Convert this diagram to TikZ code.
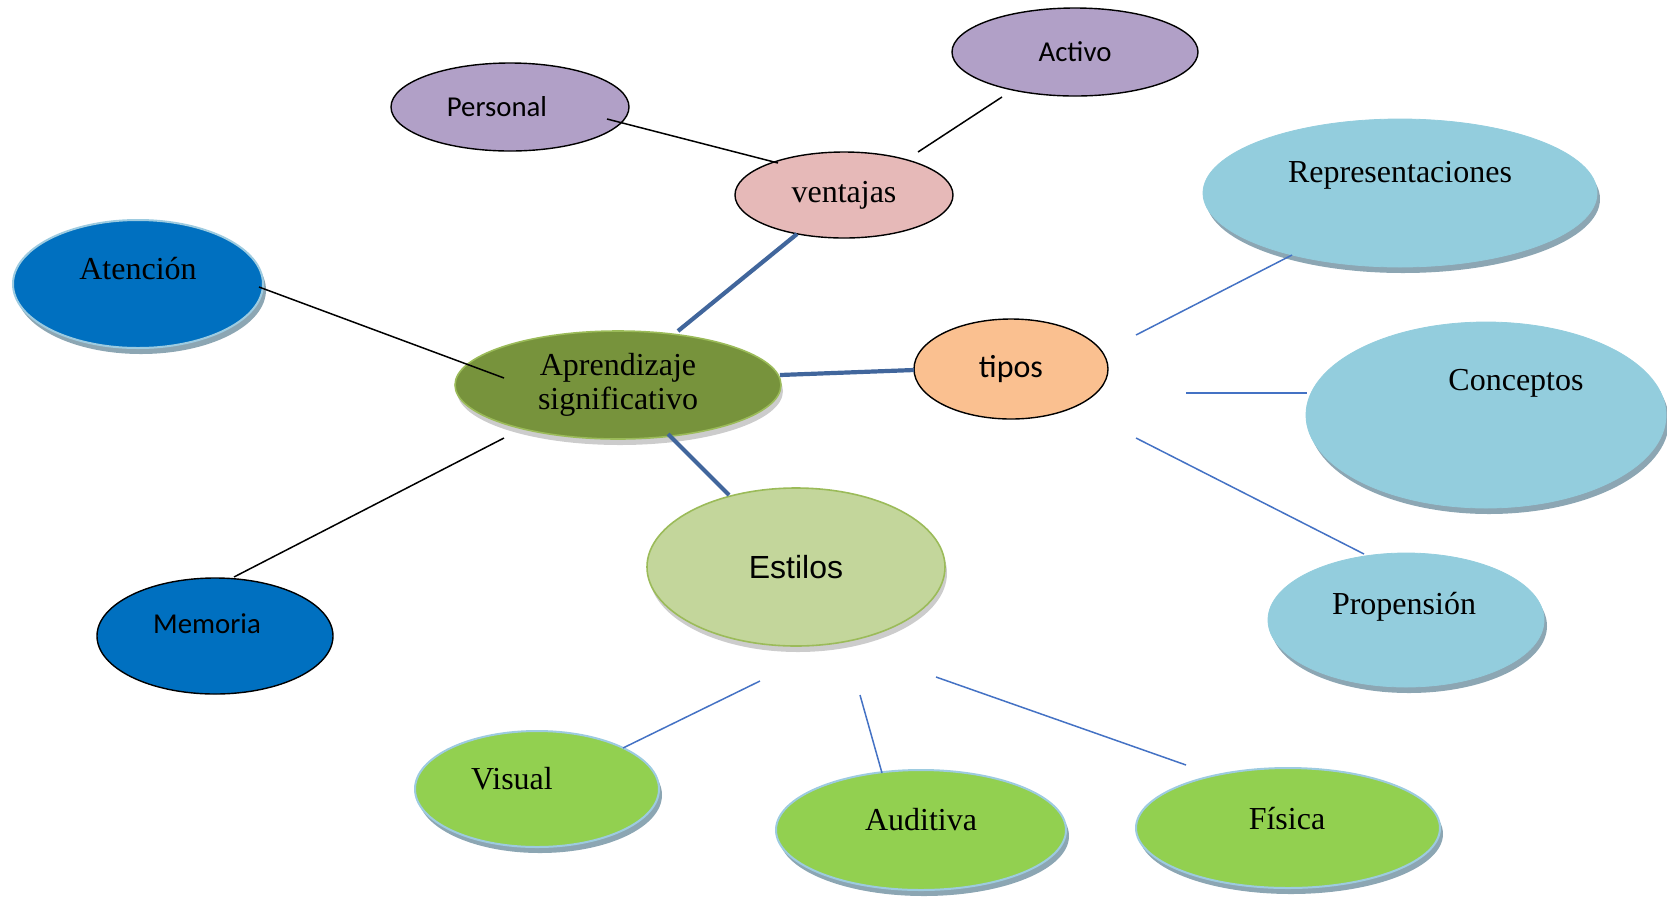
\documentclass[tikz,border=0pt]{standalone}
\usepackage{fontspec}
\setmainfont{Liberation Serif}
\newfontfamily\calibri{Carlito}
\newfontfamily\arial{Liberation Sans}
\usetikzlibrary{shapes.geometric,shadows,calc}
\definecolor{lila}{HTML}{B1A0C7}
\definecolor{rosa}{HTML}{E6B9B8}
\definecolor{azul}{HTML}{0070C0}
\definecolor{bordeaz}{HTML}{9DCBE0}
\definecolor{celeste}{HTML}{93CDDD}
\definecolor{oliva}{HTML}{77933C}
\definecolor{bordever}{HTML}{9BBB59}
\definecolor{salmon}{HTML}{FAC090}
\definecolor{verdecl}{HTML}{C3D69B}
\definecolor{verde}{HTML}{92D050}
\definecolor{sombra}{HTML}{8CA6B3}
\definecolor{grueso}{HTML}{41669C}
\definecolor{fino}{HTML}{4472C4}
\tikzset{
  burbuja/.style={ellipse, inner sep=0pt},
  negra/.style={burbuja, draw=black, line width=0.7pt},
  sombreada/.style={burbuja, draw=bordeaz, line width=1pt,
    drop shadow={shadow xshift=1.5pt, shadow yshift=-3pt, fill=sombra, opacity=1}},
  lisa/.style={burbuja, draw=celeste,
    drop shadow={shadow xshift=1.5pt, shadow yshift=-3pt, fill=sombra, opacity=1}},
  suave/.style={burbuja, draw=bordever, line width=0.8pt,
    drop shadow={shadow xshift=1pt, shadow yshift=-3pt, fill=black, opacity=0.2}},
  serif/.style={font=\fontsize{16}{17}\selectfont},
  calib/.style={font=\calibri\fontsize{14.4}{16}\selectfont},
  rotulo/.style={inner sep=0pt, serif},
  negro/.style={line width=0.75pt},
  grueso/.style={draw=grueso, line width=2.1pt},
  fino/.style={draw=fino, line width=0.75pt}
}
\begin{document}
\begin{tikzpicture}[x=0.5pt,y=-0.5pt]
\useasboundingbox (0,0) rectangle (1667,896);
%Centro
\node[suave, fill=oliva, minimum width=163pt, minimum height=54pt, align=center, serif] (apr) at (618,385) {Aprendizaje\\significativo};
%Ventajas
\node[negra, fill=rosa, minimum width=109pt, minimum height=43pt, serif] (vent) at (844,195) {ventajas};
\node[negra, fill=lila, minimum width=119pt, minimum height=44pt] (pers) at (510,107) {};
\node[inner sep=0pt, calib] (pers-t) at (497,107) {Personal};
\node[negra, fill=lila, minimum width=123pt, minimum height=44pt, calib] (act) at (1075,52) {Activo};
%Atencion y memoria
\node[sombreada, fill=azul, minimum width=125pt, minimum height=64pt] (aten) at (138,284) {};
\node[rotulo] (aten-t) at (138,269) {Atención};
\node[negra, fill=azul, minimum width=118pt, minimum height=58pt] (mem) at (215,636) {};
\node[inner sep=0pt, calib] (mem-t) at (207,624) {Memoria};
%Tipos
\node[negra, fill=salmon, minimum width=97pt, minimum height=50pt, font=\calibri\fontsize{16}{17}\selectfont] (tipos) at (1011,369) {tipos};
\node[lisa, fill=celeste, minimum width=197pt, minimum height=74pt] (repr) at (1400,193) {};
\node[rotulo] (repr-t) at (1400,175) {Representaciones};
\node[lisa, fill=celeste, minimum width=180pt, minimum height=93pt] (conc) at (1486,415) {};
\node[rotulo] (conc-t) at (1516,383) {Conceptos};
\node[lisa, fill=celeste, minimum width=138pt, minimum height=67pt] (prop) at (1406,620) {};
\node[rotulo] (prop-t) at (1404,607) {Propensión};
%Estilos
\node[suave, fill=verdecl, minimum width=149pt, minimum height=79pt, font=\arial\fontsize{16}{17}\selectfont] (est) at (796,567) {Estilos};
\node[sombreada, fill=verde, minimum width=122pt, minimum height=58pt] (vis) at (537,789) {};
\node[rotulo] (vis-t) at (512,779) {Visual};
\node[sombreada, fill=verde, minimum width=145pt, minimum height=60pt] (aud) at (921,830) {};
\node[rotulo] (aud-t) at (921,820) {Auditiva};
\node[sombreada, fill=verde, minimum width=152pt, minimum height=60pt] (fis) at (1288,828) {};
\node[rotulo] (fis-t) at (1287,819) {Física};
%Lineas
\draw[negro] ($(pers)+(97,12)$) -- ($(vent)+(-66,-32)$);
\draw[negro] ($(act)+(-73,45)$) -- ($(vent)+(74,-43)$);
\draw[grueso] ($(vent)+(-47,39)$) -- ($(apr)+(60,-54)$);
\draw[grueso] ($(apr)+(162,-10)$) -- ($(tipos)+(-97,1)$);
\draw[grueso] ($(apr)+(50,49)$) -- ($(est)+(-67,-72)$);
\draw[negro] ($(aten)+(121,3)$) -- ($(apr)+(-114,-7)$);
\draw[negro] ($(mem)+(19,-59)$) -- ($(apr)+(-114,53)$);
\draw[fino] ($(tipos)+(125,-34)$) -- ($(repr)+(-108,62)$);
\draw[fino] ($(tipos)+(175,24)$) -- ($(conc)+(-179,-22)$);
\draw[fino] ($(tipos)+(125,69)$) -- ($(prop)+(-42,-66)$);
\draw[fino] ($(est)+(-36,114)$) -- ($(vis)+(86,-41)$);
\draw[fino] ($(est)+(64,128)$) -- ($(aud)+(-39,-57)$);
\draw[fino] ($(est)+(140,110)$) -- ($(fis)+(-102,-63)$);
\end{tikzpicture}
\end{document}
